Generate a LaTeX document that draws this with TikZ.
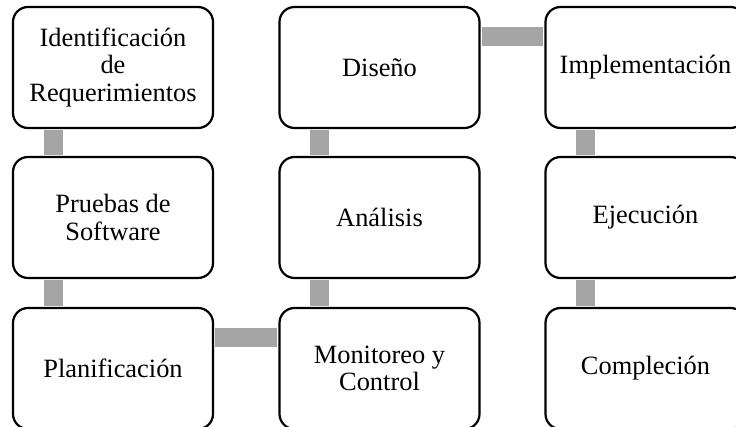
\documentclass[tikz,border=0pt]{standalone}
\usepackage{fontspec}
\setmainfont{Liberation Serif}
\usepackage{xcolor}
\usepackage{tikz}
\usetikzlibrary{positioning, calc}

\definecolor{barGray}{HTML}{A5A5A5}

\begin{document}
\begin{tikzpicture}[
    x=0.5pt, y=-0.5pt,
    phase/.style={rectangle, draw, line width=1.1pt, rounded corners=7.5pt, fill=white, minimum width=100pt, minimum height=60.5pt, inner sep=2pt, align=center, font=\fontsize{13.2}{13.8}\selectfont},
    link/.style={draw=barGray, line width=9.5pt, shorten <=0.5pt, shorten >=0.5pt}
]
\useasboundingbox (0,0) rectangle (736,427);

% Column 1
\node[phase] (req) at (113, 67.5) {Identificación\\de\\Requerimientos};
\node[phase] (tests) at (113, 217.5) {Pruebas de\\Software};
\node[phase] (plan) at (113, 368.5) {Planificación};

% Column 2
\node[phase] (design) at (379.5, 67.5) {Diseño};
\node[phase] (analysis) at (379.5, 217.5) {Análisis};
\node[phase] (monitor) at (379.5, 368.5) {Monitoreo y\\Control};

% Column 3
\node[phase] (impl) at (645.5, 67.5) {Implementación};
\node[phase] (exec) at (645.5, 217.5) {Ejecución};
\node[phase] (done) at (645.5, 368.5) {Compleción};

% Links
\draw[link] ([xshift=-29.75pt]req.south) -- ([xshift=-29.75pt]tests.north);
\draw[link] ([xshift=-29.75pt]tests.south) -- ([xshift=-29.75pt]plan.north);
\draw[link] ([yshift=15.5pt]plan.east) -- ([yshift=15.5pt]monitor.west);
\draw[link] ([xshift=-29.75pt]monitor.north) -- ([xshift=-29.75pt]analysis.south);
\draw[link] ([xshift=-29.75pt]analysis.north) -- ([xshift=-29.75pt]design.south);
\draw[link] ([yshift=15.5pt]design.east) -- ([yshift=15.5pt]impl.west);
\draw[link] ([xshift=-29.75pt]impl.south) -- ([xshift=-29.75pt]exec.north);
\draw[link] ([xshift=-29.75pt]exec.south) -- ([xshift=-29.75pt]done.north);
\end{tikzpicture}
\end{document}
